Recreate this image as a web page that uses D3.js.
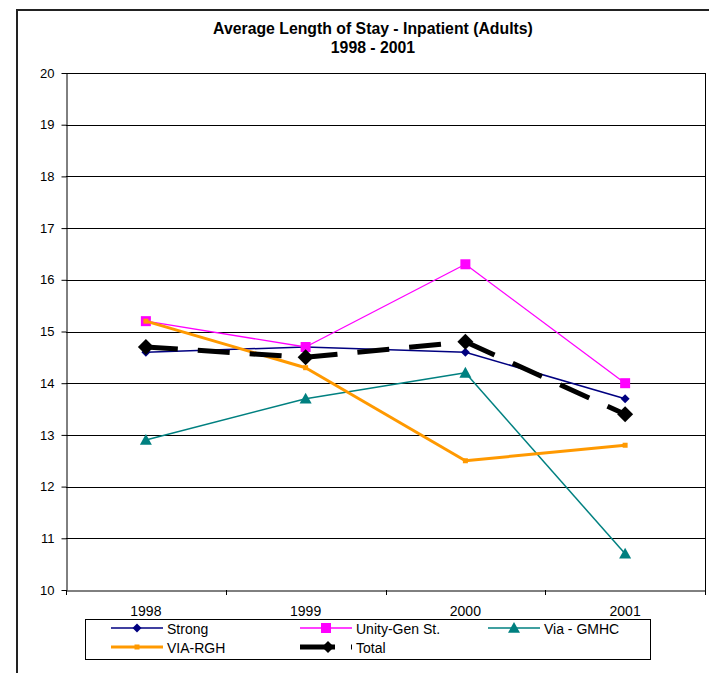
<!DOCTYPE html>
<html><head><meta charset="utf-8">
<script src="https://cdn.jsdelivr.net/npm/d3@7"></script>
<style>body{margin:0;background:#fff}svg{display:block;font-family:"Liberation Sans",Arial,sans-serif}</style>
</head><body>
<script>
const years = ["1998","1999","2000","2001"];
const strong = [14.6, 14.7, 14.6, 13.7];
const unity = [15.2, 14.7, 16.3, 14.0];
const viaGMHC = [12.9, 13.7, 14.2, 10.7];
const viaRGH = [15.2, 14.3, 12.5, 12.8];
const total = [14.7, 14.5, 14.8, 13.4];
const yTicks = [10,11,12,13,14,15,16,17,18,19,20];

const W=709,H=673;
const svg=d3.select("body").append("svg").attr("width",W).attr("height",H);
svg.append("rect").attr("x",17).attr("y",10).attr("width",700).attr("height",670).attr("fill","#fff").attr("stroke","#222").attr("stroke-width",2);

const L=66,R=705,T=73,B=590;
const x=d3.scaleBand().domain(years).range([L,R]);
const y=d3.scaleLinear().domain([10,20]).range([B,T]);

svg.append("text").attr("x",373).attr("y",34).attr("text-anchor","middle").attr("font-weight","bold").attr("font-size",15.8).text("Average Length of Stay - Inpatient (Adults)");
svg.append("text").attr("x",373).attr("y",53).attr("text-anchor","middle").attr("font-weight","bold").attr("font-size",15.8).text("1998 - 2001");

// gridlines
svg.append("g").selectAll("line").data(yTicks.filter(d=>d>10)).join("line")
 .attr("x1",L).attr("x2",R).attr("y1",d=>Math.round(y(d))+0.5).attr("y2",d=>Math.round(y(d))+0.5)
 .attr("stroke","#000").attr("stroke-width",1);
svg.append("line").attr("x1",R+0.5).attr("x2",R+0.5).attr("y1",T).attr("y2",B).attr("stroke","#000");

const ya=svg.append("g").attr("transform",`translate(${L+0.5},0)`).call(d3.axisLeft(y).tickValues(yTicks).tickSize(5).tickPadding(7).tickSizeOuter(0));
ya.select(".domain").attr("stroke","#000");
ya.selectAll("text").attr("font-size",13).attr("font-family","Liberation Sans, Arial, sans-serif").attr("fill","#000");
ya.selectAll(".tick line").attr("stroke","#000");

const xa=svg.append("g").attr("transform",`translate(0,${B+0.5})`).call(d3.axisBottom(x).tickSize(0).tickSizeOuter(0));
xa.select(".domain").attr("stroke","#000");
xa.selectAll("text").attr("font-size",14).attr("font-family","Liberation Sans, Arial, sans-serif").attr("fill","#000").attr("dy",null).attr("y",25);
svg.append("g").selectAll("line").data(d3.range(years.length+1)).join("line")
 .attr("x1",i=>Math.round(L+i*x.step())+0.5).attr("x2",i=>Math.round(L+i*x.step())+0.5)
 .attr("y1",B).attr("y2",B+5).attr("stroke","#000");

const cx=d=>x(d)+x.bandwidth()/2;
const series=[
 {name:"Strong",vals:strong,color:"#000080",w:1.5,dash:null,marker:"diamond",ms:4.5},
 {name:"Unity-Gen St.",vals:unity,color:"#FF00FF",w:1.3,dash:null,marker:"square",ms:5},
 {name:"Via - GMHC",vals:viaGMHC,color:"#008080",w:1.5,dash:null,marker:"triangle",ms:6},
 {name:"VIA-RGH",vals:viaRGH,color:"#FF9900",w:3,dash:null,marker:"square",ms:2.5},
 {name:"Total",vals:total,color:"#000",w:5,dash:"32,20",marker:"diamond",ms:8}
];
function marker(g,type,s,color,px,py){
 if(type==="diamond"){
  g.append("path").attr("d",`M${px},${py-s}L${px+s},${py}L${px},${py+s}L${px-s},${py}Z`).attr("fill",color);
 } else if(type==="square"){
  g.append("rect").attr("x",px-s).attr("y",py-s).attr("width",2*s).attr("height",2*s).attr("fill",color);
 } else if(type==="triangle"){
  g.append("path").attr("d",`M${px},${py-s}L${px+s},${py+s*0.8}L${px-s},${py+s*0.8}Z`).attr("fill",color);
 }
}
const line=d3.line().x(d=>d[0]).y(d=>d[1]);
series.forEach(s=>{
 const pts=years.map((yr,i)=>[cx(yr),y(s.vals[i])]);
 const g=svg.append("g");
 // each segment drawn separately so dash pattern restarts at each point
 for(let i=0;i<pts.length-1;i++){
  g.append("path").attr("d",line([pts[i],pts[i+1]])).attr("fill","none").attr("stroke",s.color)
   .attr("stroke-width",s.w).attr("stroke-dasharray",s.dash).attr("stroke-linejoin","round");
 }
 pts.forEach(p=>marker(g,s.marker,s.ms,s.color,p[0],p[1]));
});

// legend
svg.append("rect").attr("x",85.5).attr("y",619.5).attr("width",565).attr("height",40).attr("fill","#fff").attr("stroke","#000");
const legPos=[[111,628],[300,628],[488,628],[111,647],[300,647]];
series.forEach((s,i)=>{
 const [lx,ly]=legPos[i];
 const g=svg.append("g");
 g.append("line").attr("x1",lx).attr("x2",lx+52).attr("y1",ly).attr("y2",ly).attr("stroke",s.color)
  .attr("stroke-width",s.w).attr("stroke-dasharray",s.dash?"35,16":null);
 marker(g,s.marker,s.name==="Total"?6:s.ms,s.color,s.name==="Total"?lx+28:lx+26,ly);
 g.append("text").attr("x",lx+56).attr("y",ly+5.5).attr("font-size",14).text(s.name);
});
</script>
</body></html>
